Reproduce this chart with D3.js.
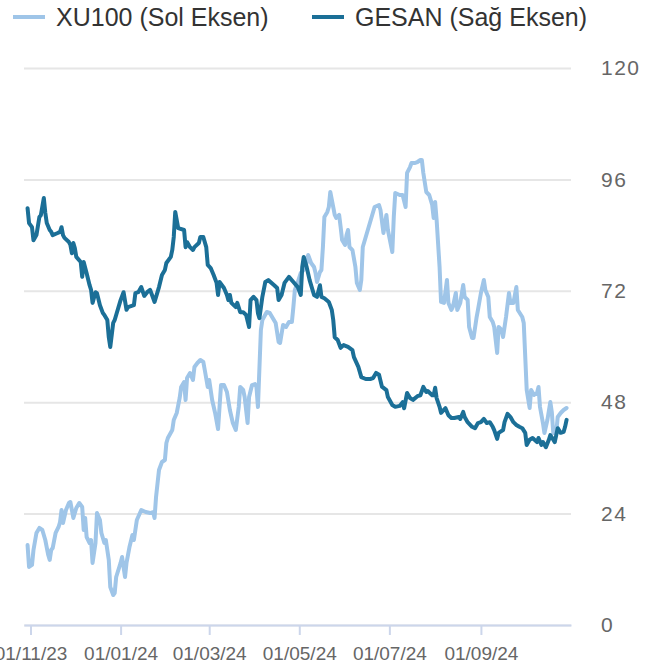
<!DOCTYPE html>
<html>
<head>
<meta charset="utf-8">
<script src="https://cdn.jsdelivr.net/npm/d3@7"></script>
<style>
  body { margin: 0; background: #fff; }
  text { font-family: "Liberation Sans", Arial, sans-serif; }
</style>
</head>
<body>
<script>
const width = 656;
const height = 668;

// series: [date, value]
const xu100 = [["2023-10-30",7718],["2023-10-31",7521],["2023-11-02",7539],["2023-11-03",7673],["2023-11-05",7826],["2023-11-07",7871],["2023-11-09",7853],["2023-11-11",7763],["2023-11-13",7628],["2023-11-14",7584],["2023-11-15",7673],["2023-11-16",7691],["2023-11-18",7826],["2023-11-20",7880],["2023-11-21",7925],["2023-11-22",8032],["2023-11-23",7916],["2023-11-25",8032],["2023-11-27",8095],["2023-11-28",8104],["2023-11-30",7961],["2023-12-02",8050],["2023-12-04",8095],["2023-12-06",8059],["2023-12-07",7853],["2023-12-08",7961],["2023-12-09",7790],["2023-12-11",7736],["2023-12-12",7763],["2023-12-13",7557],["2023-12-15",7736],["2023-12-16",8005],["2023-12-18",7943],["2023-12-19",7826],["2023-12-21",7736],["2023-12-22",7763],["2023-12-24",7584],["2023-12-25",7341],["2023-12-27",7269],["2023-12-28",7287],["2023-12-29",7431],["2024-01-01",7557],["2024-01-02",7610],["2024-01-04",7431],["2024-01-05",7557],["2024-01-07",7700],["2024-01-09",7808],["2024-01-10",7763],["2024-01-11",7853],["2024-01-12",7943],["2024-01-15",8032],["2024-01-18",8014],["2024-01-21",8005],["2024-01-23",8014],["2024-01-24",7961],["2024-01-25",8149],["2024-01-27",8391],["2024-01-29",8463],["2024-01-31",8481],["2024-02-01",8634],["2024-02-02",8679],["2024-02-05",8751],["2024-02-06",8840],["2024-02-08",8903],["2024-02-10",9038],["2024-02-11",9137],["2024-02-13",9181],["2024-02-14",9020],["2024-02-15",9217],["2024-02-17",9262],["2024-02-19",9199],["2024-02-20",9316],["2024-02-22",9352],["2024-02-24",9379],["2024-02-26",9361],["2024-02-27",9289],["2024-02-29",9137],["2024-03-01",9199],["2024-03-03",9020],["2024-03-05",8903],["2024-03-07",8759],["2024-03-08",8957],["2024-03-09",9154],["2024-03-11",9154],["2024-03-13",9092],["2024-03-15",8930],["2024-03-17",8813],["2024-03-19",8751],["2024-03-21",8957],["2024-03-22",9137],["2024-03-24",9110],["2024-03-25",9047],["2024-03-27",8813],["2024-03-28",9047],["2024-03-30",9154],["2024-04-01",9163],["2024-04-02",9137],["2024-04-03",8957],["2024-04-05",9648],["2024-04-06",9738],["2024-04-09",9810],["2024-04-11",9801],["2024-04-13",9756],["2024-04-15",9711],["2024-04-17",9540],["2024-04-18",9532],["2024-04-20",9693],["2024-04-22",9675],["2024-04-24",9720],["2024-04-26",9720],["2024-04-27",9855],["2024-04-28",10007],["2024-04-30",10079],["2024-05-02",10160],["2024-05-04",10187],["2024-05-06",10250],["2024-05-07",10321],["2024-05-09",10250],["2024-05-11",10214],["2024-05-12",10160],["2024-05-13",10079],["2024-05-15",10169],["2024-05-16",10187],["2024-05-17",10393],["2024-05-18",10663],["2024-05-20",10708],["2024-05-21",10752],["2024-05-22",10887],["2024-05-24",10752],["2024-05-25",10681],["2024-05-26",10654],["2024-05-28",10681],["2024-05-29",10573],["2024-05-30",10456],["2024-06-01",10411],["2024-06-02",10501],["2024-06-03",10546],["2024-06-04",10393],["2024-06-06",10366],["2024-06-08",10214],["2024-06-09",10070],["2024-06-11",10007],["2024-06-12",10097],["2024-06-13",10393],["2024-06-15",10483],["2024-06-17",10573],["2024-06-19",10663],["2024-06-21",10752],["2024-06-24",10770],["2024-06-25",10725],["2024-06-27",10519],["2024-06-29",10681],["2024-06-30",10546],["2024-07-03",10348],["2024-07-04",10663],["2024-07-05",10878],["2024-07-08",10860],["2024-07-10",10860],["2024-07-12",10752],["2024-07-13",11058],["2024-07-15",11111],["2024-07-16",11147],["2024-07-18",11147],["2024-07-20",11156],["2024-07-22",11174],["2024-07-23",11174],["2024-07-24",11058],["2024-07-26",10887],["2024-07-28",10860],["2024-07-30",10770],["2024-07-31",10654],["2024-08-01",10797],["2024-08-02",10636],["2024-08-04",10214],["2024-08-05",9900],["2024-08-07",9891],["2024-08-09",10097],["2024-08-10",9891],["2024-08-12",9828],["2024-08-13",9855],["2024-08-15",9980],["2024-08-16",9828],["2024-08-18",9891],["2024-08-20",10052],["2024-08-21",9944],["2024-08-23",9918],["2024-08-24",9675],["2024-08-26",9576],["2024-08-27",9576],["2024-08-29",9756],["2024-08-30",9828],["2024-09-01",9980],["2024-09-03",10097],["2024-09-04",10007],["2024-09-06",9944],["2024-09-07",9765],["2024-09-09",9720],["2024-09-10",9675],["2024-09-12",9442],["2024-09-13",9675],["2024-09-15",9648],["2024-09-16",9585],["2024-09-18",9765],["2024-09-20",9980],["2024-09-21",9891],["2024-09-23",9891],["2024-09-25",10034],["2024-09-26",9828],["2024-09-29",9765],["2024-09-30",9711],["2024-10-02",9110],["2024-10-04",8948],["2024-10-05",9110],["2024-10-07",9065],["2024-10-09",9083],["2024-10-10",9137],["2024-10-11",8957],["2024-10-13",8813],["2024-10-14",8724],["2024-10-16",8840],["2024-10-18",9002],["2024-10-19",8912],["2024-10-20",8724],["2024-10-22",8724],["2024-10-23",8867],["2024-10-25",8903],["2024-10-27",8930],["2024-10-29",8948]];

const gesan = [["2023-10-30",89.8],["2023-10-31",86.6],["2023-11-02",85.7],["2023-11-03",82.9],["2023-11-05",84.0],["2023-11-07",87.9],["2023-11-08",88.3],["2023-11-10",92.0],["2023-11-11",88.8],["2023-11-12",86.6],["2023-11-14",85.1],["2023-11-15",84.7],["2023-11-16",84.0],["2023-11-19",84.4],["2023-11-21",84.7],["2023-11-22",85.7],["2023-11-23",84.0],["2023-11-24",83.4],["2023-11-27",82.5],["2023-11-28",81.9],["2023-11-29",80.1],["2023-11-30",82.3],["2023-12-01",81.2],["2023-12-02",79.3],["2023-12-05",78.2],["2023-12-06",75.0],["2023-12-07",78.2],["2023-12-09",75.8],["2023-12-11",73.2],["2023-12-12",72.2],["2023-12-13",69.4],["2023-12-15",71.7],["2023-12-16",71.5],["2023-12-18",68.9],["2023-12-20",67.2],["2023-12-21",66.8],["2023-12-23",65.7],["2023-12-24",62.0],["2023-12-25",59.9],["2023-12-27",65.1],["2023-12-28",65.7],["2023-12-29",66.8],["2024-01-01",70.0],["2024-01-03",71.7],["2024-01-05",67.9],["2024-01-06",68.5],["2024-01-10",68.9],["2024-01-11",71.5],["2024-01-13",71.7],["2024-01-15",72.8],["2024-01-17",70.9],["2024-01-19",71.7],["2024-01-21",72.2],["2024-01-24",69.6],["2024-01-27",72.8],["2024-01-29",75.4],["2024-01-31",76.5],["2024-02-01",78.0],["2024-02-04",79.3],["2024-02-05",80.8],["2024-02-06",83.6],["2024-02-07",89.0],["2024-02-09",85.5],["2024-02-13",85.1],["2024-02-14",81.4],["2024-02-15",82.5],["2024-02-17",81.4],["2024-02-19",80.8],["2024-02-20",81.4],["2024-02-23",82.3],["2024-02-24",83.6],["2024-02-26",83.6],["2024-02-28",81.4],["2024-02-29",77.6],["2024-03-02",76.9],["2024-03-04",75.4],["2024-03-06",73.7],["2024-03-07",71.1],["2024-03-08",73.9],["2024-03-11",72.6],["2024-03-13",71.1],["2024-03-14",70.0],["2024-03-15",71.1],["2024-03-16",69.4],["2024-03-19",68.5],["2024-03-20",69.4],["2024-03-22",67.4],["2024-03-24",67.4],["2024-03-26",66.8],["2024-03-28",64.2],["2024-03-29",70.0],["2024-03-31",70.7],["2024-04-02",70.0],["2024-04-03",67.2],["2024-04-04",66.1],["2024-04-06",70.7],["2024-04-08",73.9],["2024-04-10",74.3],["2024-04-14",73.2],["2024-04-16",72.6],["2024-04-17",70.0],["2024-04-19",71.1],["2024-04-21",73.7],["2024-04-24",75.0],["2024-04-27",73.9],["2024-04-30",72.8],["2024-05-02",71.1],["2024-05-03",77.1],["2024-05-04",79.3],["2024-05-06",77.1],["2024-05-08",74.3],["2024-05-11",71.1],["2024-05-13",70.7],["2024-05-15",73.2],["2024-05-16",70.7],["2024-05-18",70.4],["2024-05-21",69.6],["2024-05-23",67.9],["2024-05-24",65.7],["2024-05-25",62.0],["2024-05-27",61.4],["2024-05-29",59.7],["2024-05-31",60.3],["2024-06-03",59.9],["2024-06-06",59.2],["2024-06-07",57.7],["2024-06-10",55.6],["2024-06-12",53.4],["2024-06-15",53.0],["2024-06-18",53.0],["2024-06-20",53.2],["2024-06-22",54.3],["2024-06-24",53.9],["2024-06-26",51.3],["2024-06-27",51.1],["2024-06-29",50.6],["2024-06-30",49.1],["2024-07-03",47.4],["2024-07-05",47.0],["2024-07-08",47.2],["2024-07-10",48.0],["2024-07-11",46.7],["2024-07-13",50.0],["2024-07-15",48.9],["2024-07-17",48.5],["2024-07-20",49.3],["2024-07-22",49.5],["2024-07-24",51.3],["2024-07-26",50.2],["2024-07-27",50.4],["2024-07-30",49.5],["2024-07-31",49.5],["2024-08-01",51.1],["2024-08-02",48.9],["2024-08-04",47.0],["2024-08-05",45.7],["2024-08-08",46.7],["2024-08-10",45.2],["2024-08-12",44.6],["2024-08-14",44.6],["2024-08-17",44.8],["2024-08-18",44.4],["2024-08-20",45.9],["2024-08-21",44.8],["2024-08-23",43.7],["2024-08-26",42.7],["2024-08-28",42.4],["2024-08-30",43.5],["2024-09-01",43.7],["2024-09-03",44.4],["2024-09-05",43.5],["2024-09-07",43.7],["2024-09-09",42.7],["2024-09-10",42.0],["2024-09-12",40.1],["2024-09-13",41.4],["2024-09-16",42.0],["2024-09-17",43.7],["2024-09-19",45.5],["2024-09-21",44.8],["2024-09-23",43.7],["2024-09-25",43.1],["2024-09-27",42.7],["2024-09-29",42.4],["2024-10-01",41.4],["2024-10-02",38.8],["2024-10-04",39.9],["2024-10-06",40.3],["2024-10-09",39.4],["2024-10-10",40.3],["2024-10-12",38.8],["2024-10-13",39.4],["2024-10-15",38.3],["2024-10-17",39.9],["2024-10-18",40.9],["2024-10-20",39.9],["2024-10-21",39.4],["2024-10-23",42.4],["2024-10-25",41.4],["2024-10-27",41.6],["2024-10-28",42.7],["2024-10-29",44.2]];

const rightTicks = [0, 24, 48, 72, 96, 120];
const monthTicks = ["2023-11-01", "2024-01-01", "2024-03-01", "2024-05-01", "2024-07-01", "2024-09-01"];
const seriesNames = ["XU100 (Sol Eksen)", "GESAN (Sağ Eksen)"];
const colors = ["#9fc5e8", "#1b6f97"];

const parse = d3.timeParse("%Y-%m-%d");
const plotLeft = 24, plotRight = 571, plotTop = 68, plotBottom = 625;

const svg = d3.select("body").append("svg")
  .attr("width", width)
  .attr("height", height);

const x = d3.scaleTime()
  .domain([new Date(2023, 9, 27, 14), new Date(2024, 10, 1)])
  .range([plotLeft, plotRight]);

// left axis is hidden in the original, only the right one is labelled
const yLeft = d3.scaleLinear().domain([7000, 12000]).range([plotBottom, plotTop]);
const yRight = d3.scaleLinear().domain([0, 120]).range([plotBottom, plotTop]);

// grid + right labels
const yAxis = d3.axisRight(yRight)
  .tickValues(rightTicks)
  .tickSize(plotRight - plotLeft)
  .tickPadding(30)
  .tickFormat(d3.format("d"));

svg.append("g")
  .attr("transform", `translate(${plotLeft},0)`)
  .call(yAxis)
  .call((g) => g.select(".domain").remove())
  .call((g) => g.selectAll("line").attr("stroke", "#e6e6e6").attr("stroke-width", 2))
  .call((g) => g.selectAll("text")
    .attr("fill", "#666")
    .attr("font-size", 21)
    .attr("letter-spacing", 1.5)
    .attr("font-family", "'Liberation Sans', Arial, sans-serif"));

// x axis
const xAxis = d3.axisBottom(x)
  .tickValues(monthTicks.map(parse))
  .tickSize(10)
  .tickSizeOuter(0)
  .tickPadding(12)
  .tickFormat(d3.timeFormat("%d/%m/%y"));

svg.append("g")
  .attr("transform", `translate(0,${plotBottom})`)
  .call(xAxis)
  .call((g) => g.select(".domain").attr("stroke", "#ccd6eb").attr("stroke-width", 2))
  .call((g) => g.selectAll("line").attr("stroke", "#ccd6eb").attr("stroke-width", 2))
  .call((g) => g.selectAll("text")
    .attr("fill", "#666")
    .attr("font-size", 19)
    .attr("font-family", "'Liberation Sans', Arial, sans-serif"));

const lineLeft = d3.line()
  .x((d) => x(parse(d[0])))
  .y((d) => yLeft(d[1]));

const lineRight = d3.line()
  .x((d) => x(parse(d[0])))
  .y((d) => yRight(d[1]));

svg.append("path")
  .datum(xu100)
  .attr("d", lineLeft)
  .attr("fill", "none")
  .attr("stroke", colors[0])
  .attr("stroke-width", 4)
  .attr("stroke-linejoin", "round")
  .attr("stroke-linecap", "round");

svg.append("path")
  .datum(gesan)
  .attr("d", lineRight)
  .attr("fill", "none")
  .attr("stroke", colors[1])
  .attr("stroke-width", 4)
  .attr("stroke-linejoin", "round")
  .attr("stroke-linecap", "round");

// legend
const legend = svg.append("g")
  .selectAll("g")
  .data(seriesNames)
  .join("g")
  .attr("transform", (d, i) => `translate(${i === 0 ? 13 : 312},17)`);

legend.append("line")
  .attr("x1", 0)
  .attr("x2", 32)
  .attr("stroke", (d, i) => colors[i])
  .attr("stroke-width", 4);

legend.append("text")
  .attr("x", 43)
  .attr("y", 9)
  .attr("fill", "#333")
  .attr("font-size", 25)
  .text((d) => d);
</script>
</body>
</html>
